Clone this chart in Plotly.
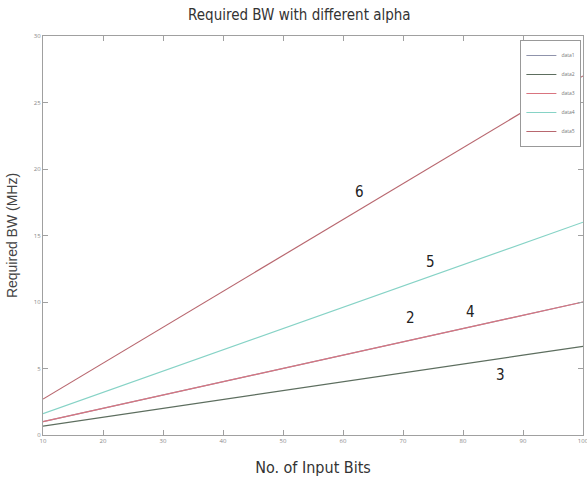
import plotly.graph_objects as go

# ---- data ----
bits = [10, 20, 30, 40, 50, 60, 70, 80, 90, 100]
bw_line2 = [1.0, 2.0, 3.0, 4.0, 5.0, 6.0, 7.0, 8.0, 9.0, 10.0]
bw_line3 = [0.67, 1.33, 2.0, 2.67, 3.33, 4.0, 4.67, 5.33, 6.0, 6.67]
bw_line4 = [1.0, 2.0, 3.0, 4.0, 5.0, 6.0, 7.0, 8.0, 9.0, 10.0]
bw_line5 = [1.6, 3.2, 4.8, 6.4, 8.0, 9.6, 11.2, 12.8, 14.4, 16.0]
bw_line6 = [2.7, 5.4, 8.1, 10.8, 13.5, 16.2, 18.9, 21.6, 24.3, 27.0]
series_names = ["data1", "data2", "data3", "data4", "data5"]
series_values = [bw_line2, bw_line3, bw_line4, bw_line5, bw_line6]
series_colors = ["#8f93ab", "#5d6e5f", "#d9747f", "#86d3c6", "#b8676f"]

x_ticks = [10, 20, 30, 40, 50, 60, 70, 80, 90, 100]
y_ticks = [0, 5, 10, 15, 20, 25, 30]

label_text = ["6", "5", "2", "4", "3"]
label_x = [62.8, 74.5, 71.2, 81.2, 86.2]
label_y = [18.3, 13.0, 8.8, 9.25, 4.5]

fig = go.Figure()
for name, vals, col in zip(series_names, series_values, series_colors):
    fig.add_trace(go.Scatter(x=bits, y=vals, mode="lines", name=name,
                             line=dict(color=col, width=1.2)))

narrow = "DejaVu Sans Condensed, Liberation Sans Narrow, sans-serif"
for t, xx, yy in zip(label_text, label_x, label_y):
    fig.add_annotation(x=xx, y=yy, text=t, showarrow=False,
                       font=dict(family=narrow, size=15, color="#222"))

axis_common = dict(showline=True, linecolor="#a0a0a0", linewidth=1.3, mirror="ticks",
                   ticks="inside", ticklen=5, tickcolor="#a0a0a0", showgrid=False,
                   zeroline=False, automargin=False, ticklabeloverflow="allow",
                   tickfont=dict(size=6, color="#888"))

fig.update_xaxes(range=[10, 100], tickvals=x_ticks, ticktext=[str(v) for v in x_ticks],
                 title=dict(text="No. of Input Bits", standoff=17,
                            font=dict(family=narrow, size=16, color="#333")),
                 **axis_common)
fig.update_yaxes(range=[0, 30], tickvals=y_ticks, ticktext=[str(v) for v in y_ticks],
                 title=dict(text="Required BW (MHz)", standoff=12,
                            font=dict(family="Liberation Sans, Arial, sans-serif", size=14, color="#444")),
                 **axis_common)

fig.update_layout(
    width=587, height=478,
    margin=dict(l=43, r=4, t=36, b=43, autoexpand=False),
    paper_bgcolor="white", plot_bgcolor="white",
    title=dict(text="Required BW with different alpha", x=0.51, xanchor="center",
               yref="container", y=1 - 15 / 478, yanchor="middle",
               font=dict(family=narrow, size=15, color="#333")),
    legend=dict(x=0.997, y=0.99, xanchor="right", yanchor="top",
                bgcolor="white", bordercolor="#999", borderwidth=1,
                font=dict(size=5, color="#777"), itemwidth=30, tracegroupgap=0),
    showlegend=True,
)

fig.write_html("out.html", config={"displayModeBar": False},
               post_script="document.body.style.margin='0';document.body.style.overflow='hidden';")
